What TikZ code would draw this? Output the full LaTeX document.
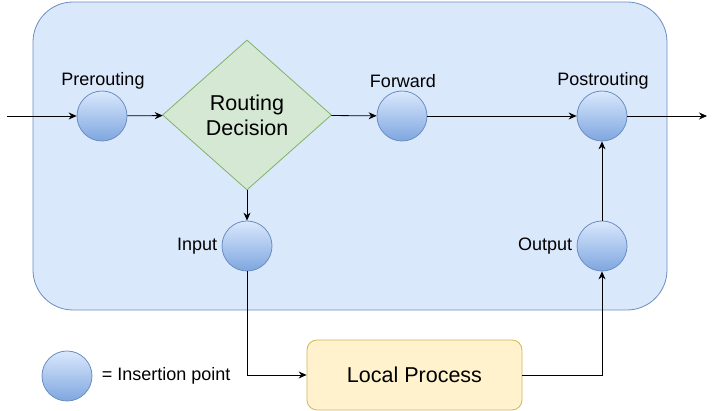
\documentclass[tikz,border=0pt]{standalone}
\usepackage{fontspec}
\setmainfont{Liberation Sans}
\usetikzlibrary{arrows.meta,shapes.geometric}
\definecolor{boxblue}{HTML}{DAE8FC}
\definecolor{lineblue}{HTML}{6C8EBF}
\definecolor{hookblue}{HTML}{7EA6E0}
\definecolor{decgreen}{HTML}{D5E8D4}
\definecolor{decline}{HTML}{82B366}
\definecolor{procyellow}{HTML}{FFF2CC}
\definecolor{procline}{HTML}{D6B656}
\tikzset{
  hook/.style={circle,minimum size=50pt,inner sep=0pt,draw=lineblue,line width=.8pt,top color=boxblue,bottom color=hookblue},
  lbl/.style={font=\fontsize{18}{21}\selectfont},
  big/.style={font=\fontsize{21.5}{25}\selectfont,align=center},
  flow/.style={draw,line width=.8pt,-{Stealth[length=8pt,width=7pt]}}
}
\begin{document}
\begin{tikzpicture}[x=1pt,y=-1pt]
  \useasboundingbox (0,0) rectangle (716,411);
  \node[draw=lineblue,fill=boxblue,line width=.8pt,rounded corners=40pt,minimum width=634pt,minimum height=308pt] (chain) at (350,156) {};
  \node[hook] (pre) at (102,116) {};
  \node[hook] (fwd) at (402,116) {};
  \node[hook] (post) at (602,116) {};
  \node[hook] (in) at (247,246) {};
  \node[hook] (out) at (602,246) {};
  \node[hook] (key) at (67,376) {};
  \node[diamond,draw=decline,fill=decgreen,line width=.8pt,inner sep=0pt,minimum width=169pt,minimum height=150pt,big] (dec) at (247,115) {Routing\\Decision};
  \node[draw=procline,fill=procyellow,line width=.8pt,rounded corners=10pt,minimum width=215pt,minimum height=70pt,big] (proc) at (414.5,375) {Local Process};
  \coordinate (src) at (7,116);
  \coordinate (dst) at (707,116);
  % chain labels
  \node[lbl] (prelbl) at (103,81) {Prerouting};
  \node[lbl] (fwdlbl) at (403,81) {Forward};
  \node[lbl] (postlbl) at (603,81) {Postrouting};
  \node[lbl,left=1pt] (inlbl) at (in.west) {Input};
  \node[lbl,left=1pt] (outlbl) at (out.west) {Output};
  \node[lbl,right=6pt] (keylbl) at (key.east) {= Insertion point};
  % packet flow
  \draw[flow] (src) -- (pre);
  \draw[flow] (pre) -- (dec);
  \draw[flow] (dec) -- (fwd);
  \draw[flow] (fwd) -- (post);
  \draw[flow] (post) -- (dst);
  \draw[flow] (dec) -- (in);
  \draw[flow] (in) |- (proc);
  \draw[flow] (proc) -| (out);
  \draw[flow] (out) -- (post);
\end{tikzpicture}
\end{document}
